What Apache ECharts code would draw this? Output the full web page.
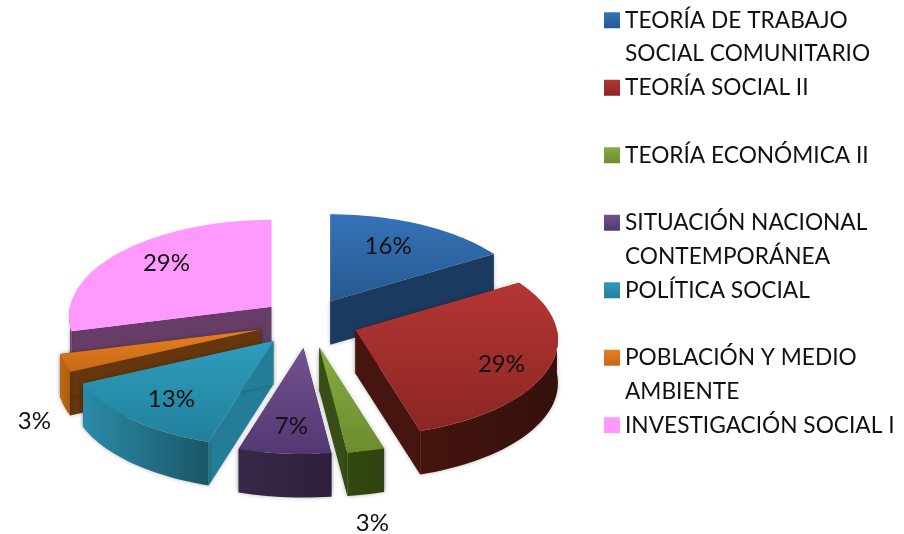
<!DOCTYPE html>
<html>
<head>
<meta charset="utf-8">
<style>html,body{margin:0;padding:0;background:#fff}#c{width:904px;height:534px}</style>
<script src="https://cdn.jsdelivr.net/npm/echarts@6/dist/echarts.min.js"></script>
</head>
<body>
<div id="c"></div>
<script>
const categories = [
  'TEORÍA DE TRABAJO\nSOCIAL COMUNITARIO',
  'TEORÍA SOCIAL II',
  'TEORÍA ECONÓMICA II',
  'SITUACIÓN NACIONAL\nCONTEMPORÁNEA',
  'POLÍTICA SOCIAL',
  'POBLACIÓN Y MEDIO\nAMBIENTE',
  'INVESTIGACIÓN SOCIAL I'
];
const percentValues = [16.3, 29, 2.7, 6.7, 13.3, 3, 29];

// Appearance and projection of the tilted pie (no data here)
const FONT = 'Lato, "Open Sans", sans-serif';
const LEGEND_SIZE = 22.7, LABEL_SIZE = 24;
const CENTER = [308, 321], EXPLODE = [49, 24.5];
const RX = 201.5, RY = 95.6, PERSP = 0.0983, DEPTH = 43.5;
const drawOrder = [1, 3, 6, 5, 4, 2, 0]; // z of each slice, back to front
const labelOffsets = [[58, -55], [146, 34], [53, 176], [-12, 78], [-102, 58], [-226, 92], [-105, -44]];
const palette = [
  {top: ['#3573b8', '#25598f'], arc: ['#1c3c62', '#1c3c62'], edge: '#1b3a5f'},
  {top: ['#b53633', '#8a2624'], arc: ['#46140f', '#35100c'], edge: '#47150f'},
  {top: ['#86ad40', '#6c8c2f'], arc: ['#34490f', '#2f4210'], edge: '#374e17'},
  {top: ['#73528f', '#523872'], arc: ['#382849', '#2d1f3c'], edge: '#332346'},
  {top: ['#2e9dbd', '#21809b'], arc: ['#2b8ba8', '#1a5666'], edge: '#237d97'},
  {top: ['#e8801f', '#c56a17'], arc: ['#c06a12', '#a95c0e'], edge: '#66360c'},
  {top: ['#ff99ff', '#ff99ff'], arc: ['#663d66', '#663d66'], edge: '#663d66'}
];

const total = percentValues.reduce((a, b) => a + b, 0);
const spans = [];
percentValues.reduce((acc, v) => {
  const next = acc + v / total * 360;
  spans.push([acc, next]);
  return next;
}, 0);
const rad = d => d * Math.PI / 180;
const persp = v => 1 / (1 - PERSP * v);
const apexOf = i => {
  const m = rad((spans[i][0] + spans[i][1]) / 2);
  const u = Math.sin(m), v = -Math.cos(m), s = persp(v);
  return [CENTER[0] + EXPLODE[0] * u * s, CENTER[1] + EXPLODE[1] * v * s];
};
const project = (apex, deg) => {
  const u = Math.sin(rad(deg)), v = -Math.cos(rad(deg)), s = persp(v);
  return [apex[0] + RX * u * s, apex[1] + RY * v * s];
};
const arcPoints = (apex, a, b) => {
  const n = Math.max(2, Math.ceil((b - a) / 2)), out = [];
  for (let k = 0; k <= n; k++) out.push(project(apex, a + (b - a) * k / n));
  return out;
};
const down = p => [p[0], p[1] + DEPTH];
const vGrad = c => new echarts.graphic.LinearGradient(0, 0, 0, 1, [{offset: 0, color: c[0]}, {offset: 1, color: c[1]}]);
const hGrad = c => new echarts.graphic.LinearGradient(0, 0, 1, 0, [{offset: 0, color: c[0]}, {offset: 1, color: c[1]}]);
const SHADOW = {shadowBlur: 4, shadowColor: 'rgba(0,0,0,0.28)'};

function sliceRenderer(i) {
  return function () {
    const [a, b] = spans[i], apex = apexOf(i), pal = palette[i], kids = [];
    const poly = (points, fill, extra) => ({type: 'polygon', silent: true, shape: {points}, style: Object.assign({fill}, extra || {})});
    const pa = project(apex, a), pb = project(apex, b);
    kids.push(poly([apex, pa, down(pa), down(apex)], pal.edge, SHADOW));
    kids.push(poly([apex, pb, down(pb), down(apex)], pal.edge, SHADOW));
    const fa = Math.max(a, 90), fb = Math.min(b, 270);
    if (fb > fa) {
      const arc = arcPoints(apex, fa, fb);
      kids.push(poly(arc.concat(arc.slice().reverse().map(down)), hGrad(pal.arc), SHADOW));
    }
    kids.push(poly([apex].concat(arcPoints(apex, a, b)), vGrad(pal.top)));
    kids.push({
      type: 'text', silent: true, z2: 10,
      style: {
        text: Math.round(percentValues[i]) + '%',
        x: apex[0] + labelOffsets[i][0], y: apex[1] + labelOffsets[i][1],
        font: LABEL_SIZE + 'px ' + FONT, fill: '#111', align: 'center', verticalAlign: 'middle'
      }
    });
    return {type: 'group', children: kids};
  };
}

const chart = echarts.init(document.getElementById('c'), null, {renderer: 'canvas'});
chart.setOption({
  animation: false,
  backgroundColor: '#fff',
  legend: {
    orient: 'vertical', left: 604, top: -30, padding: 0,
    itemWidth: 16, itemHeight: 16, itemGap: -33, icon: 'rect',
    selectedMode: false,
    data: categories,
    formatter: name => ' \n' + (name.includes('\n') ? name : name + '\n '),
    textStyle: {fontFamily: FONT, fontSize: LEGEND_SIZE, lineHeight: 33.5, color: '#111'}
  },
  series: categories.map((name, i) => ({
    type: 'custom',
    name,
    coordinateSystem: 'none',
    z: 2 + drawOrder[i],
    silent: true,
    data: [[percentValues[i]]],
    itemStyle: {color: vGrad(palette[i].top)},
    renderItem: sliceRenderer(i)
  }))
});
</script>
</body>
</html>
